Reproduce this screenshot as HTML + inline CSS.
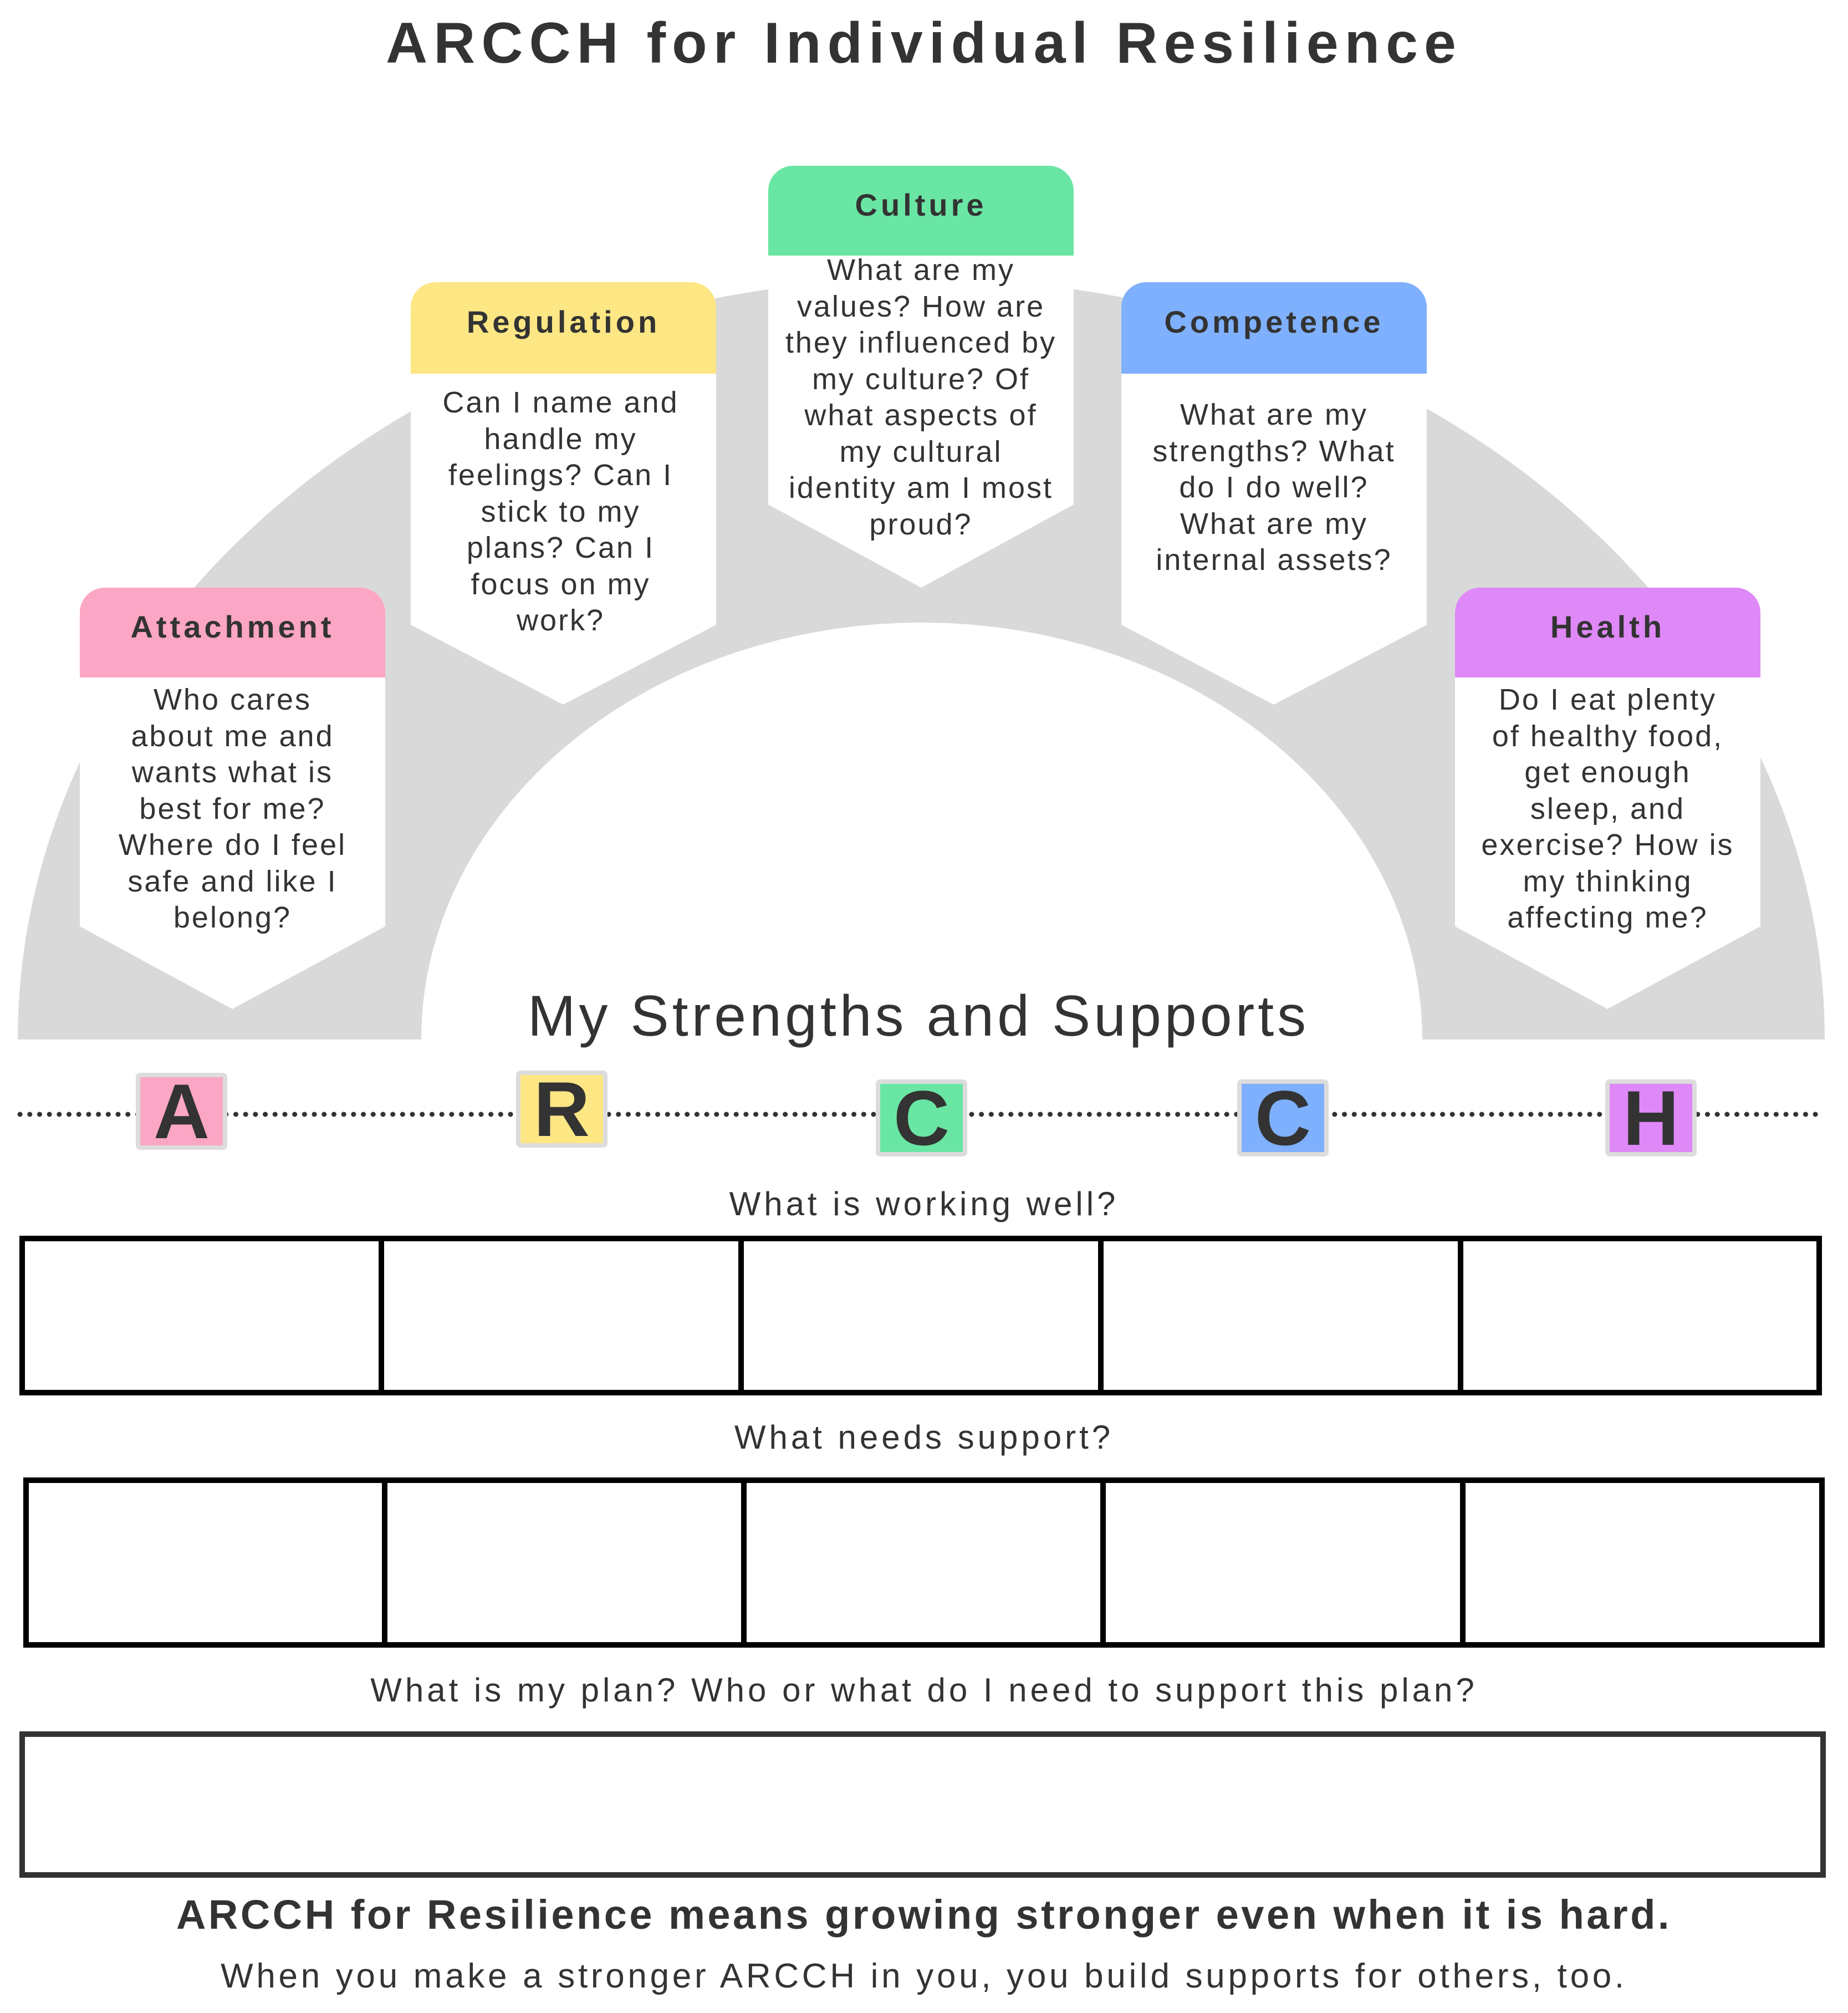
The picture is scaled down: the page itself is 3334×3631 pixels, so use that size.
<!DOCTYPE html>
<html><head><meta charset="utf-8">
<style>
html,body{margin:0;padding:0;background:#fff}
#w{position:relative;width:3334px;height:3631px;overflow:hidden;font-family:"Liberation Sans",sans-serif;color:#333}
.t{position:absolute;text-align:center;white-space:nowrap}
.body{font-size:54px;line-height:65.5px;letter-spacing:3px}
.hd{font-size:56px;font-weight:bold;line-height:60px;letter-spacing:6px}
.q{font-size:60px;line-height:74px;letter-spacing:6px}
.lb{position:absolute;box-sizing:border-box;border:8px solid #dcdcdc;border-radius:8px;font-weight:bold;font-size:140px;line-height:123px;text-align:center;color:#333}
</style></head><body><div id="w">
<svg width="3334" height="3631" style="position:absolute;left:0;top:0">
<path d="M32,1875 A1630,1373 0 0 1 3292,1875 L2566,1875 A903,752 0 0 0 760,1875 Z" fill="#d9d9d9"/>
<g>
<path d="M144,1671 L144,1105 A45,45 0 0 1 189,1060 L650,1060 A45,45 0 0 1 695,1105 L695,1671 L419,1820 Z" fill="#fff"/>
<path d="M144,1222 L144,1105 A45,45 0 0 1 189,1060 L650,1060 A45,45 0 0 1 695,1105 L695,1222 Z" fill="#fba6c4"/>
<path d="M741,1127 L741,554 A45,45 0 0 1 786,509 L1247,509 A45,45 0 0 1 1292,554 L1292,1127 L1016,1271 Z" fill="#fff"/>
<path d="M741,674 L741,554 A45,45 0 0 1 786,509 L1247,509 A45,45 0 0 1 1292,554 L1292,674 Z" fill="#fde684"/>
<path d="M1386,910 L1386,344 A45,45 0 0 1 1431,299 L1892,299 A45,45 0 0 1 1937,344 L1937,910 L1662,1060 Z" fill="#fff"/>
<path d="M1386,461 L1386,344 A45,45 0 0 1 1431,299 L1892,299 A45,45 0 0 1 1937,344 L1937,461 Z" fill="#6ae6a4"/>
<path d="M2023,1127 L2023,554 A45,45 0 0 1 2068,509 L2529,509 A45,45 0 0 1 2574,554 L2574,1127 L2298,1271 Z" fill="#fff"/>
<path d="M2023,674 L2023,554 A45,45 0 0 1 2068,509 L2529,509 A45,45 0 0 1 2574,554 L2574,674 Z" fill="#7fb0fd"/>
<path d="M2625,1671 L2625,1105 A45,45 0 0 1 2670,1060 L3131,1060 A45,45 0 0 1 3176,1105 L3176,1671 L2900,1820 Z" fill="#fff"/>
<path d="M2625,1222 L2625,1105 A45,45 0 0 1 2670,1060 L3131,1060 A45,45 0 0 1 3176,1105 L3176,1222 Z" fill="#df88f7"/>
</g>
<line x1="36" y1="2010" x2="3283" y2="2010" stroke="#333" stroke-width="9" stroke-dasharray="0.1 17.6" stroke-linecap="round"/>
<g fill="none" stroke="#000" stroke-width="10">
<rect x="40" y="2234" width="3242" height="278"/>
<line x1="688" y1="2234" x2="688" y2="2512"/><line x1="1337" y1="2234" x2="1337" y2="2512"/>
<line x1="1986" y1="2234" x2="1986" y2="2512"/><line x1="2635" y1="2234" x2="2635" y2="2512"/>
<rect x="47" y="2670" width="3240" height="297"/>
<line x1="694" y1="2670" x2="694" y2="2967"/><line x1="1342" y1="2670" x2="1342" y2="2967"/>
<line x1="1990" y1="2670" x2="1990" y2="2967"/><line x1="2639" y1="2670" x2="2639" y2="2967"/>
<rect x="40" y="3128" width="3249" height="254" stroke="#333"/>
</g>
</svg>

<div class="t" style="left:0;width:3334px;top:18px;font-size:104px;font-weight:bold;line-height:120px;letter-spacing:11px">ARCCH for Individual Resilience</div>

<div class="t hd" style="left:144px;width:551px;top:1101px">Attachment</div>
<div class="t body" style="left:144px;width:551px;top:1230px">Who cares<br>about me and<br>wants what is<br>best for me?<br>Where do I feel<br>safe and like I<br>belong?</div>

<div class="t hd" style="left:741px;width:551px;top:551px">Regulation</div>
<div class="t body" style="left:741px;width:541px;top:694px">Can I name and<br>handle my<br>feelings? Can I<br>stick to my<br>plans? Can I<br>focus on my<br>work?</div>

<div class="t hd" style="left:1386px;width:551px;top:340px">Culture</div>
<div class="t body" style="left:1386px;width:551px;top:455px">What are my<br>values? How are<br>they influenced by<br>my culture? Of<br>what aspects of<br>my cultural<br>identity am I most<br>proud?</div>

<div class="t hd" style="left:2023px;width:551px;top:551px">Competence</div>
<div class="t body" style="left:2023px;width:551px;top:716px">What are my<br>strengths? What<br>do I do well?<br>What are my<br>internal assets?</div>

<div class="t hd" style="left:2625px;width:551px;top:1101px">Health</div>
<div class="t body" style="left:2625px;width:551px;top:1230px">Do I eat plenty<br>of healthy food,<br>get enough<br>sleep, and<br>exercise? How is<br>my thinking<br>affecting me?</div>

<div class="t" style="left:0;width:3314px;top:1768px;font-size:104px;line-height:130px;letter-spacing:6px">My Strengths and Supports</div>

<div class="lb" style="left:245px;top:1935px;width:165px;height:139px;background:#fba6c4">A</div>
<div class="lb" style="left:931px;top:1931px;width:165px;height:139px;background:#fde684">R</div>
<div class="lb" style="left:1580px;top:1947px;width:165px;height:139px;background:#6ae6a4">C</div>
<div class="lb" style="left:2232px;top:1947px;width:165px;height:139px;background:#7fb0fd">C</div>
<div class="lb" style="left:2896px;top:1947px;width:165px;height:139px;background:#df88f7">H</div>

<div class="t q" style="left:0;width:3334px;top:2135px">What is working well?</div>
<div class="t q" style="left:0;width:3334px;top:2556px">What needs support?</div>
<div class="t q" style="left:0;width:3334px;top:3012px">What is my plan? Who or what do I need to support this plan?</div>
<div class="t" style="left:0;width:3334px;top:3411px;font-size:74px;font-weight:bold;line-height:86px;letter-spacing:4.5px">ARCCH for Resilience means growing stronger even when it is hard.</div>
<div class="t" style="left:0;width:3334px;top:3527px;font-size:62px;line-height:76px;letter-spacing:5.7px">When you make a stronger ARCCH in you, you build supports for others, too.</div>
</div></body></html>
